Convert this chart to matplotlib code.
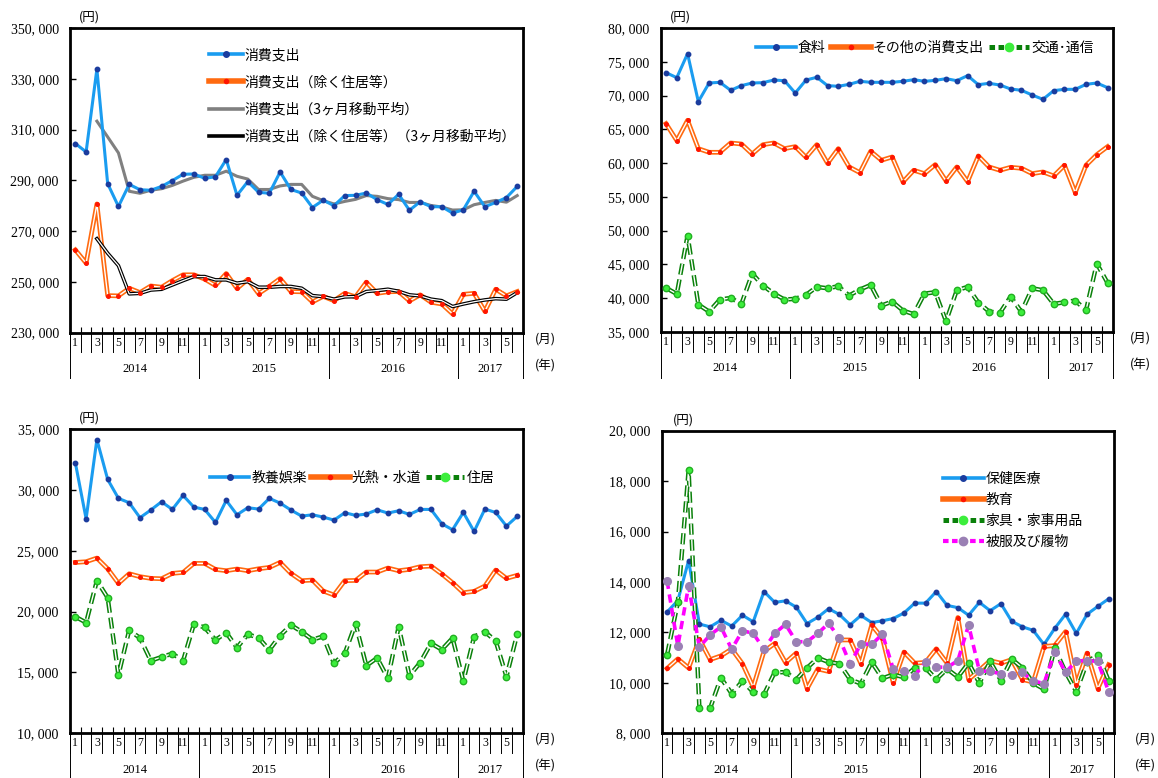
import numpy as np
import matplotlib
matplotlib.use('Agg')
import matplotlib.pyplot as plt
from matplotlib.lines import Line2D
from matplotlib.ticker import FuncFormatter

plt.rcParams['font.family'] = ['Noto Sans CJK JP', 'DejaVu Sans']
plt.rcParams['lines.scale_dashes'] = False
SERIF = 'Liberation Serif'

# ── データ (2014年1月〜2017年6月) ─────────────────────────────────
YEARS = [2014, 2015, 2016, 2017]
YEAR_MONTHS = [12, 12, 12, 6]
MONTHS = [m for n in YEAR_MONTHS for m in range(1, n + 1)]

# 消費支出
total = [304500, 301200, 333800, 288700, 279700, 288400, 286300, 286100, 287600, 289900,
         292400, 292500, 290800, 291400, 298200, 284100, 289500, 285300, 284900, 293300,
         286400, 285000, 279300, 282200, 280000, 284000, 284100, 285000, 282400, 280500,
         284500, 278200, 281600, 279600, 279600, 277100, 278400, 285700, 279600, 281300,
         283200, 287600]
total_ex = [262600, 257400, 280700, 244600, 244500, 247500, 245800, 248400, 247900, 250500,
            252800, 252800, 251100, 248600, 253300, 247400, 251000, 245400, 248200, 251300,
            246200, 246100, 242100, 244300, 242600, 245500, 244100, 249900, 245500, 246100,
            246200, 242500, 244900, 242000, 241300, 237400, 245100, 245500, 238400, 247100,
            244500, 246200]
# 3ヶ月移動平均 (2014年3月から)
total_ma = [313300, 307100, 300800, 285700, 284900, 286100, 286700, 288000, 289700, 291200,
            292000, 292000, 293600, 291600, 290500, 286400, 286400, 287800, 288400, 288400,
            283700, 282000, 280700, 281700, 282500, 284000, 283700, 282800, 282400, 281300,
            281300, 280100, 279500, 278300, 278400, 280400, 281300, 282100, 281400, 284000]
total_ex_ma = [267000, 261300, 256400, 245300, 245500, 246800, 247100, 248800, 250500, 252100,
               252100, 250800, 250800, 249500, 250100, 247900, 247900, 248200, 248200, 247500,
               244600, 244200, 243200, 244100, 244200, 246200, 246600, 247100, 246300, 244900,
               244500, 243200, 242600, 240300, 241300, 242200, 242900, 243400, 243200, 245800]

# 食料 / その他の消費支出 / 交通・通信
food = [73390, 72650, 76200, 69100, 71860, 71960, 70780, 71470, 71860, 71910,
        72300, 72200, 70380, 72300, 72700, 71470, 71370, 71660, 72110, 71960,
        71960, 71960, 72110, 72350, 72110, 72250, 72500, 72200, 72950, 71610,
        71810, 71560, 70970, 70780, 70080, 69440, 70730, 70920, 70920, 71660,
        71860, 71170]
other = [65840, 63330, 66340, 62140, 61600, 61600, 62980, 62830, 61350, 62730,
         62980, 62140, 62440, 60860, 62730, 59970, 62140, 59430, 58590, 61750,
         60420, 60910, 57210, 58940, 58440, 59780, 57360, 59430, 57260, 61060,
         59430, 58940, 59380, 59230, 58440, 58690, 58100, 59680, 55630, 59680,
         61250, 62440]
transport = [41520, 40630, 49270, 39060, 38020, 39800, 40040, 39150, 43640, 41870,
             40680, 39800, 39900, 40490, 41670, 41470, 41770, 40390, 41280, 41960,
             38910, 39500, 38170, 37630, 40680, 40880, 36590, 41180, 41670, 39350,
             38020, 37820, 40240, 37970, 41470, 41180, 39150, 39400, 39650, 38220,
             45120, 42260]

# 教養娯楽 / 光熱・水道 / 住居
culture = [32250, 27640, 34160, 30880, 29320, 28960, 27730, 28360, 29040, 28410,
           29560, 28600, 28410, 27340, 29150, 27970, 28550, 28440, 29320, 28930,
           28360, 27860, 27970, 27780, 27530, 28140, 27920, 28030, 28380, 28110,
           28300, 28000, 28410, 28410, 27230, 26740, 28160, 26600, 28440, 28160,
           27040, 27840]
utilities = [24050, 24110, 24410, 23530, 22330, 23120, 22880, 22740, 22710, 23150,
             23230, 23970, 23970, 23480, 23370, 23510, 23370, 23530, 23640, 24050,
             23150, 22550, 22600, 21700, 21370, 22550, 22570, 23260, 23260, 23590,
             23370, 23480, 23700, 23750, 23100, 22380, 21560, 21670, 22110, 23420,
             22740, 22990]
housing = [19590, 19100, 22550, 21150, 14790, 18490, 17830, 15970, 16270, 16550,
           15970, 18960, 18710, 17670, 18270, 17040, 18140, 17860, 16850, 18030,
           18900, 18350, 17700, 17970, 15750, 16570, 19010, 15560, 16190, 14520,
           18770, 14740, 15810, 17400, 16880, 17830, 14300, 17950, 18350, 17590,
           14660, 18160]

# 保健医療 / 教育 / 家具・家事用品 / 被服及び履物
medical = [12810, 13260, 14850, 12330, 12220, 12480, 12250, 12680, 12420, 13620,
           13190, 13250, 13000, 12350, 12600, 12940, 12710, 12300, 12670, 12390,
           12460, 12550, 12770, 13160, 13160, 13620, 13070, 12980, 12680, 13190,
           12860, 13140, 12440, 12220, 12080, 11520, 12160, 12720, 11960, 12720,
           13030, 13330]
education = [10570, 10950, 10590, 11730, 10920, 11070, 11340, 10760, 9830, 11250,
             11560, 10800, 11180, 9770, 10550, 10450, 11700, 11700, 10760, 12290,
             11760, 10000, 11220, 10780, 10810, 11350, 10780, 12590, 10130, 10500,
             10880, 10780, 10920, 10130, 10030, 11440, 11480, 12030, 9930, 11180,
             9770, 10720]
furniture = [11110, 13190, 18430, 9020, 9000, 10200, 9570, 10070, 9630, 9540,
             10420, 10420, 10130, 10590, 10990, 10820, 10760, 10130, 9970, 10820,
             10180, 10330, 10220, 10590, 10590, 10140, 10550, 10230, 10790, 9990,
             10850, 10090, 10940, 10590, 9990, 9750, 11370, 10430, 9650, 10820,
             11120, 10090]
clothing = [14050, 11460, 13840, 11420, 11900, 12220, 11330, 12070, 11960, 11330,
            11960, 12320, 11630, 11630, 11960, 12360, 11770, 10740, 11550, 11520,
            11930, 10550, 10450, 10290, 10820, 10630, 10610, 10880, 12290, 10470,
            10450, 10360, 10300, 10410, 10080, 9970, 11220, 10410, 10870, 10880,
            10850, 9650]

# ── スタイル ──────────────────────────────────────────────────────
C = {
    'blue': '#1A9CF0', 'blue_dot': '#1B3C9E',
    'orange': '#FF6A10', 'red_dot': '#FF1500',
    'gray': '#808080', 'black': '#000000',
    'green': '#0A800A', 'lime': '#3CEE3C',
    'magenta': '#FF00FF', 'purple': '#9A80B4',
}
GREEN_DASH = (0, (8, 3.5))
MAG_DASH = (0, (6, 4))
LEG_FS = 10


def plot_solid(ax, x, y, color, dot=None, lw=2.2, ms=3.2):
    ax.plot(x, y, color=color, lw=lw, solid_joinstyle='round',
            marker='o' if dot else None, ms=ms, mfc=dot, mec=dot, zorder=3)


def plot_double(ax, x, y, color, dot=None, lw=3.4, inner=1.0, ls='-', ms=2.6,
                mfc=None, mec=None):
    ax.plot(x, y, color=color, lw=lw, ls=ls, zorder=3)
    ax.plot(x, y, color='white', lw=inner, ls=ls, zorder=3)
    if dot:
        ax.plot(x, y, ls='none', marker='o', ms=ms, mfc=mfc or dot,
                mec=mec or dot, zorder=4)


def handle(color, dot=None, ls='-', lw=3.4, ms=4, mfc=None):
    return Line2D([], [], color=color, lw=lw, ls=ls, marker='o' if dot else None,
                  ms=ms, mfc=mfc or dot, mec=dot)


def setup_axes(ax, ylim, ystep, yunit_x=0.02, tag_x=1.05):
    n = len(MONTHS)
    ax.set_xlim(0, n)
    ax.set_ylim(*ylim)
    ax.set_yticks(np.arange(ylim[0], ylim[1] + 1, ystep))
    ax.yaxis.set_major_formatter(FuncFormatter(lambda v, p: f'{int(v):,}'.replace(',', ', ')))
    ax.tick_params(axis='y', direction='in', length=4, width=1, labelsize=10,
                   labelfontfamily=SERIF, pad=8)
    for s in ax.spines.values():
        s.set_linewidth(2.0)

    # 月ラベル
    ax.set_xticks(np.arange(n) + 0.5)
    ax.set_xticklabels([str(m) if m % 2 == 1 else '' for m in MONTHS])
    ax.tick_params(axis='x', length=0, labelsize=8.5, labelfontfamily=SERIF, pad=3)
    ax.set_xticks(np.arange(n + 1), minor=True)
    ax.tick_params(axis='x', which='minor', direction='in', length=4, width=0.8)

    tr = ax.get_xaxis_transform()
    for b in range(n + 1):
        ax.plot([b, b], [0, -0.065], transform=tr, color='black', lw=0.7, clip_on=False)
    # 年区切り
    start = 0
    bounds = [0]
    for yr, cnt in zip(YEARS, YEAR_MONTHS):
        ax.text(start + cnt / 2, -0.12, str(yr), transform=tr, ha='center', va='center',
                fontsize=9, fontfamily=SERIF)
        start += cnt
        bounds.append(start)
    for b in bounds:
        ax.plot([b, b], [0, -0.15], transform=tr, color='black', lw=0.7, clip_on=False)

    ax.text(yunit_x, 1.015, '(円)', transform=ax.transAxes, ha='left', va='bottom', fontsize=9)
    ax.text(tag_x, -0.02, '(月)', transform=ax.transAxes, ha='center', va='center', fontsize=9)
    ax.text(tag_x, -0.108, '(年)', transform=ax.transAxes, ha='center', va='center', fontsize=9)


fig = plt.figure(figsize=(11.58, 7.78), dpi=100)
ax1 = fig.add_axes([0.0604, 0.5724, 0.3909, 0.3916])
ax2 = fig.add_axes([0.5705, 0.5733, 0.3906, 0.3907])
ax3 = fig.add_axes([0.0604, 0.0575, 0.3909, 0.3907])
ax4 = fig.add_axes([0.5714, 0.0575, 0.3906, 0.3890])

x = np.arange(len(MONTHS)) + 0.5
x_ma = x[2:]

# ── パネル1: 消費支出 ────────────────────────────────────────────
setup_axes(ax1, (230000, 350000), 20000, yunit_x=0.02, tag_x=1.05)
ax1.plot(x_ma, total_ma, color=C['gray'], lw=2.2, zorder=2)
plot_solid(ax1, x, total, C['blue'], C['blue_dot'])
plot_double(ax1, x, total_ex, C['orange'], C['red_dot'])
plot_double(ax1, x_ma, total_ex_ma, C['black'], lw=2.6, inner=0.9)
ax1.legend(handles=[handle(C['blue'], C['blue_dot'], lw=2.6),
                    handle(C['orange'], C['red_dot'], lw=4, ms=3),
                    handle(C['gray'], lw=2.6),
                    handle(C['black'], lw=2.6)],
           labels=['消費支出', '消費支出（除く住居等）', '消費支出（3ヶ月移動平均）',
                   '消費支出（除く住居等）（3ヶ月移動平均）'],
           loc='upper left', bbox_to_anchor=(0.28, 0.975), frameon=False, fontsize=LEG_FS,
           handlelength=2.4, handletextpad=0.15, labelspacing=0.95)

# ── パネル2: 食料・その他・交通通信 ──────────────────────────────
setup_axes(ax2, (35000, 80000), 5000, yunit_x=0.02, tag_x=1.06)
plot_solid(ax2, x, food, C['blue'], C['blue_dot'])
plot_double(ax2, x, other, C['orange'], C['red_dot'])
plot_double(ax2, x, transport, C['green'], C['lime'], lw=3.2, inner=1.0, ls=GREEN_DASH,
            ms=4.6, mec='#22B022')
ax2.legend(handles=[handle(C['blue'], C['blue_dot'], lw=2.6),
                    handle(C['orange'], C['red_dot'], lw=4, ms=3),
                    handle(C['green'], C['lime'], ls=(0, (4, 2.5)), lw=3.6, ms=6)],
           labels=['食料', 'その他の消費支出', '交通･通信'],
           loc='upper right', bbox_to_anchor=(0.985, 1.0), ncol=3, frameon=False,
           fontsize=LEG_FS, handlelength=2.9, handletextpad=0.15, columnspacing=0.35)

# ── パネル3: 教養娯楽・光熱水道・住居 ────────────────────────────
setup_axes(ax3, (10000, 35000), 5000, yunit_x=0.02, tag_x=1.05)
plot_solid(ax3, x, culture, C['blue'], C['blue_dot'])
plot_double(ax3, x, utilities, C['orange'], C['red_dot'])
plot_double(ax3, x, housing, C['green'], C['lime'], lw=3.2, inner=1.0, ls=GREEN_DASH,
            ms=4.6, mec='#22B022')
ax3.legend(handles=[handle(C['blue'], C['blue_dot'], lw=2.6),
                    handle(C['orange'], C['red_dot'], lw=4, ms=3),
                    handle(C['green'], C['lime'], ls=(0, (4, 2.5)), lw=3.6, ms=6)],
           labels=['教養娯楽', '光熱・水道', '住居'],
           loc='upper right', bbox_to_anchor=(0.965, 0.905), ncol=3, frameon=False,
           fontsize=LEG_FS, handlelength=2.8, handletextpad=0.15, columnspacing=0.3)

# ── パネル4: 保健医療・教育・家具・被服 ──────────────────────────
setup_axes(ax4, (8000, 20000), 2000, yunit_x=0.025, tag_x=1.07)
plot_solid(ax4, x, medical, C['blue'], C['blue_dot'])
plot_double(ax4, x, education, C['orange'], C['red_dot'])
plot_double(ax4, x, furniture, C['green'], C['lime'], lw=3.2, inner=1.0, ls=GREEN_DASH,
            ms=4.6, mec='#22B022')
ax4.plot(x, clothing, color=C['magenta'], lw=2.6, ls=MAG_DASH, marker='o', ms=5.5,
         mfc=C['purple'], mec=C['purple'], zorder=5)
ax4.legend(handles=[handle(C['blue'], C['blue_dot'], lw=2.6),
                    handle(C['orange'], C['red_dot'], lw=4, ms=3),
                    handle(C['green'], C['lime'], ls=(0, (4, 2.5)), lw=3.6, ms=6),
                    handle(C['magenta'], C['purple'], ls=(0, (4, 2.5)), lw=3.0, ms=6,
                           mfc=C['purple'])],
           labels=['保健医療', '教育', '家具・家事用品', '被服及び履物'],
           loc='upper left', bbox_to_anchor=(0.595, 0.905), frameon=False, fontsize=LEG_FS,
           handlelength=2.9, handletextpad=0.15, labelspacing=0.5)

fig.savefig('out.png', dpi=100)
plt.close(fig)
